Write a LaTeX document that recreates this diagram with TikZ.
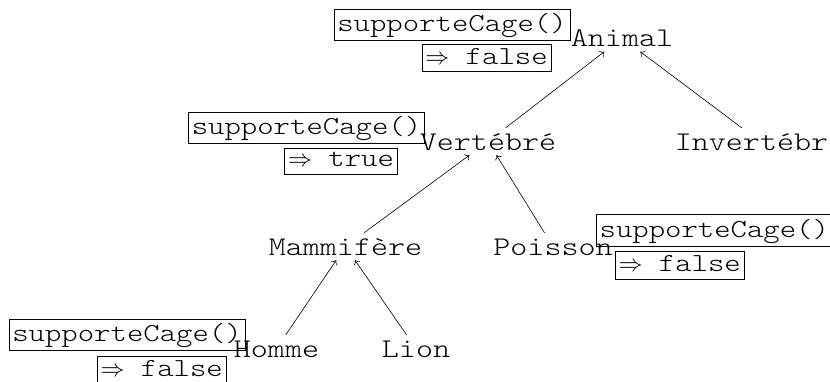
\documentclass[tikz,border=0pt]{standalone}
\usepackage{graphicx}
\usepackage{fontspec}
\newfontfamily\typew[FakeStretch=1.2]{lmmonolt10-regular.otf}
\newcommand\impl{{\fontsize{10}{12}\selectfont\scalebox{2.4}{$\Rightarrow$}}}
\usepackage{tikz}
\usetikzlibrary{arrows.meta,positioning}

\begin{document}
\begin{tikzpicture}[x=1pt, y=-1pt,
    lbl/.style={anchor=base, inner sep=5pt, text height=17pt, text depth=0pt,
        font=\typew\fontsize{27}{30}\selectfont},
    call/.style={draw, line width=0.6pt, inner xsep=3.5pt, inner ysep=3pt,
        text height=19.7pt, text depth=5.4pt, font=\typew\fontsize{26}{29}\selectfont},
    ret/.style={draw, line width=0.6pt, inner xsep=3.5pt, inner ysep=4pt,
        text depth=3.5pt, font=\typew\fontsize{26}{29}\selectfont},
    arr/.style={-{To[length=4pt,width=7.5pt]}, line width=0.6pt}
]
\useasboundingbox (0,0) rectangle (830,381);

% classes
\node[lbl] (animal) at (622,46.5) {Animal};
\node[lbl] (vert) at (488,150) {Vertébré};
\node[lbl] (invert) at (760,150) {Invertébré};
\node[lbl] (mammi) at (345.5,255) {Mammifère};
\node[lbl] (poisson) at (553,255) {Poisson};
\node[lbl] (homme) at (276.5,357) {Homme};
\node[lbl] (lion) at (416,357) {Lion};

% method calls and results
\node[call] (callA) at (452,24.5) {supporteCage()};
\node[ret] (retA) at (486.5,58) {\impl{} false};
\node[call] (callV) at (306.5,127.7) {supporteCage()};
\node[ret] (retV) at (341,161.5) {\impl{} true};
\node[call] (callP) at (714.3,230.3) {supporteCage()};
\node[ret] (retP) at (679.7,265.3) {\impl{} false};
\node[call] (callH) at (127,334.7) {supporteCage()};
\node[ret] (retH) at (161.7,370) {\impl{} false};

% inheritance
\draw[arr] (vert) -- (animal);
\draw[arr] (invert) -- (animal);
\draw[arr] (mammi) -- (vert);
\draw[arr] (poisson) -- (vert);
\draw[arr] (homme) -- (mammi);
\draw[arr] (lion) -- (mammi);
\end{tikzpicture}
\end{document}
